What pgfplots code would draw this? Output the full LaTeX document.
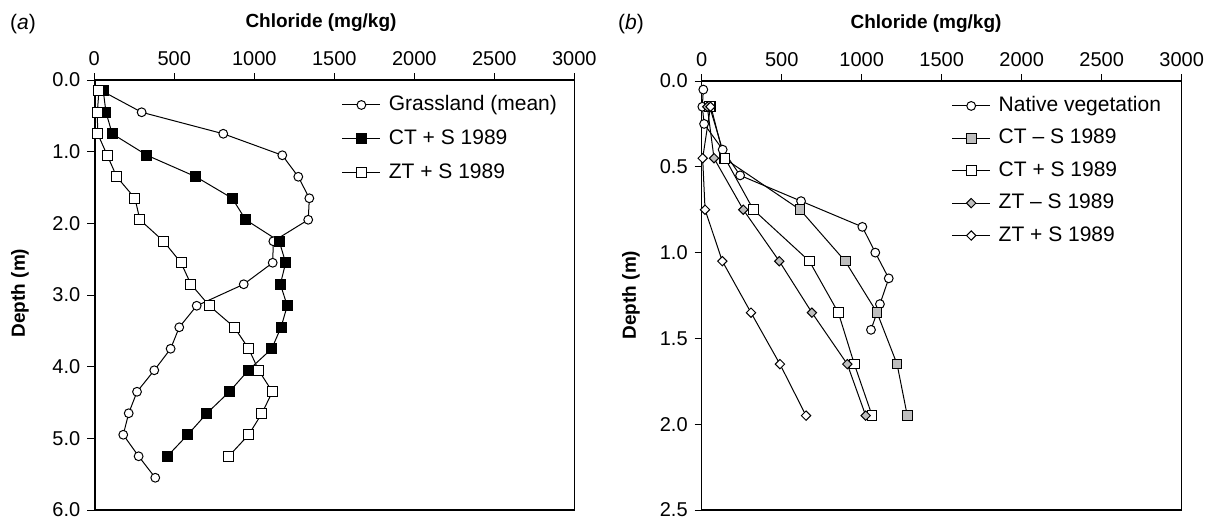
\documentclass[border=0pt]{standalone}
\usepackage{pgfplots}
\pgfplotsset{compat=1.18}
\usepackage{fontspec}
\setmainfont{Liberation Sans}
\definecolor{mygray}{RGB}{190,190,190}
\begin{document}
\begin{tikzpicture}
\useasboundingbox (0,0) rectangle (606pt,260.5pt);
\pgfplotsset{
  myax/.style={
    scale only axis, width=240pt,
    xmin=0, xmax=3000, xtick={0,500,...,3000},
    y dir=reverse,
    tick align=outside,
    xtick pos=right, ytick pos=left,
    xticklabel pos=right,
    major tick length=3.5pt,
    tick style={black, line width=0.5pt},
    axis line style={line width=0.6pt},
    /pgf/number format/assume math mode=true,
    /pgf/number format/1000 sep={},
    ticklabel style={font=\fontsize{10}{12}\selectfont},
    yticklabel style={/pgf/number format/fixed, /pgf/number format/fixed zerofill, /pgf/number format/precision=1},
    every axis plot/.append style={black, line width=0.5pt},
    legend cell align=left,
    legend image code/.code={\draw[mark repeat=2,mark phase=2,##1] plot coordinates {(0pt,0pt) (9.5pt,0pt) (19pt,0pt)};},
    legend style={draw=none, fill=none, inner sep=0pt, anchor=north west,
      font=\fontsize{10.5}{12}\selectfont,
      nodes={inner sep=0pt, text height=7.5pt, text depth=2pt}, column sep=4pt},
  },
  circ/.style={mark=*, mark size=2.2pt, mark options={solid, fill=white, line width=0.5pt}},
  bsq/.style={mark=square*, mark size=2.5pt, mark options={solid, fill=black, line width=0.5pt}},
  wsq/.style={mark=square*, mark size=2.5pt, mark options={solid, fill=white, line width=0.5pt}},
  gsq/.style={mark=square*, mark size=2.4pt, mark options={solid, fill=mygray, line width=0.5pt}},
  gdia/.style={mark=square*, mark size=1.65pt, mark options={solid, fill=mygray, rotate=45, line width=0.5pt}},
  wdia/.style={mark=square*, mark size=1.65pt, mark options={solid, fill=white, rotate=45, line width=0.5pt}},
}
% Panel (a)
\begin{axis}[myax, at={(47.15pt,5.5pt)}, anchor=south west, height=215pt,
  ymin=0, ymax=6, ytick={0,1,...,6},
  legend style={at={(0.515,0.965)}, row sep=7.5pt}]
\addplot[circ] coordinates {(46,0.15) (296,0.45) (806,0.75) (1175,1.05) (1275,1.35) (1344,1.65) (1337,1.95) (1119,2.25) (1115,2.55) (934,2.85) (640,3.15) (531,3.45) (477,3.75) (375,4.05) (267,4.35) (215,4.65) (181,4.95) (277,5.25) (381,5.55)};
\addlegendentry{Grassland (mean)}
\addplot[bsq] coordinates {(56,0.15) (73,0.45) (112,0.75) (329,1.05) (635,1.35) (862,1.65) (946,1.95) (1156,2.25) (1196,2.55) (1163,2.85) (1206,3.15) (1167,3.45) (1109,3.75) (963,4.05) (844,4.35) (704,4.65) (584,4.95) (456,5.25)};
\addlegendentry{CT + S 1989}
\addplot[wsq] coordinates {(29,0.15) (19,0.45) (21,0.75) (81,1.05) (140,1.35) (254,1.65) (285,1.95) (433,2.25) (542,2.55) (604,2.85) (719,3.15) (875,3.45) (965,3.75) (1027,4.05) (1113,4.35) (1048,4.65) (965,4.95) (840,5.25)};
\addlegendentry{ZT + S 1989}
\draw[line width=1.3pt] (rel axis cs:0,0) -- (rel axis cs:0,1);
\end{axis}
% Panel (b)
\begin{axis}[myax, at={(350.85pt,5.5pt)}, anchor=south west, height=214.5pt,
  ymin=0, ymax=2.5, ytick={0,0.5,...,2.5},
  legend style={at={(0.52,0.965)}, row sep=6.7pt}]
\addplot[circ] coordinates {(10,0.05) (4,0.15) (15,0.25) (131,0.40) (240,0.55) (621,0.70) (1004,0.85) (1085,1.00) (1169,1.15) (1114,1.30) (1058,1.45)};
\addlegendentry{Native vegetation}
\addplot[gsq] coordinates {(58,0.15) (140,0.45) (615,0.75) (897,1.05) (1096,1.35) (1221,1.65) (1285,1.95)};
\addlegendentry{CT -- S 1989}
\addplot[wsq, mark size=2.4pt] coordinates {(50,0.15) (146,0.45) (323,0.75) (673,1.05) (854,1.35) (954,1.65) (1065,1.95)};
\addlegendentry{CT + S 1989}
\addplot[gdia] coordinates {(35,0.15) (77,0.45) (260,0.75) (485,1.05) (689,1.35) (910,1.65) (1025,1.95)};
\addlegendentry{ZT -- S 1989}
\addplot[wdia] coordinates {(55,0.15) (6,0.45) (21,0.75) (129,1.05) (308,1.35) (489,1.65) (652,1.95)};
\addlegendentry{ZT + S 1989}
\end{axis}
% titles and labels
\node[anchor=base, font=\bfseries\fontsize{9.5}{11}\selectfont] at (160.5pt,246.85pt) {Chloride (mg/kg)};
\node[anchor=base, font=\bfseries\fontsize{9.5}{11}\selectfont] at (463pt,246.5pt) {Chloride (mg/kg)};
\node[font=\fontsize{10.5}{12}\selectfont] at (11.5pt,248.5pt) {(\textit{a})};
\node[font=\fontsize{10.5}{12}\selectfont] at (315.5pt,248.5pt) {(\textit{b})};
\node[rotate=90, font=\bfseries\fontsize{9.5}{11}\selectfont] at (10pt,114pt) {Depth (m)};
\node[rotate=90, font=\bfseries\fontsize{9.5}{11}\selectfont] at (315.5pt,113pt) {Depth (m)};
\end{tikzpicture}
\end{document}
